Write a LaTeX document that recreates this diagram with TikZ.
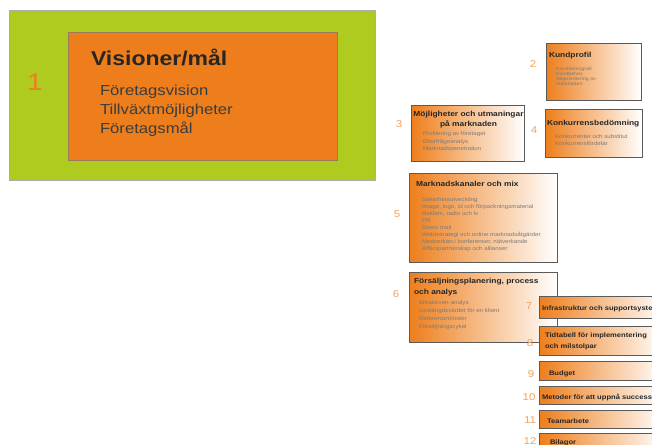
\documentclass[tikz,border=0pt]{standalone}
\usepackage{fontspec}
\setmainfont{Liberation Sans}[FakeStretch=1.15]
\usetikzlibrary{shadows}
\definecolor{leaf}{HTML}{AFCB1F}
\definecolor{tang}{HTML}{EE7E1B}
\definecolor{numc}{HTML}{F3A35C}
\definecolor{ink}{HTML}{262626}
\definecolor{bodyink}{HTML}{3C3C3C}
\definecolor{mute}{HTML}{7A7A7A}
\definecolor{rim}{HTML}{5A5A5A}
\definecolor{corerim}{HTML}{9A7A58}
\newcommand{\fsz}[1]{\fontsize{#1}{#1}\selectfont}
\begin{document}
\begin{tikzpicture}[x=1pt,y=-1pt,
  every node/.style={inner sep=0pt, outer sep=0pt},
  panel/.style={draw=rim, line width=1pt, left color=tang, right color=white,
    anchor=north west,
    drop shadow={shadow xshift=1pt, shadow yshift=-1pt, fill=black, opacity=0.25}},
  head/.style={font=\bfseries\fsz{7.3}, text=ink, anchor=base west},
  bar/.style={font=\bfseries\fsz{6.6}, text=ink, anchor=base west},
  item/.style={font=\fsz{5.4}, text=mute, anchor=base west},
  tiny/.style={font=\fsz{4.6}, text=mute, anchor=base west},
  num/.style={font=\fsz{10}, text=numc, anchor=base},
]
\path[use as bounding box] (0,0) rectangle (652,444);
\fill[white] (0,0) rectangle (652,444);
\clip (0,0) rectangle (652,444);

% vision panel
\node[draw=gray!65, fill=leaf, line width=0.8pt, anchor=north west,
  minimum width=365.5pt, minimum height=170pt,
  drop shadow={shadow xshift=1pt, shadow yshift=-1pt, fill=black, opacity=0.45}]
  (frame) at (9.5,10) {};
\node[draw=corerim, fill=tang, line width=1pt, anchor=north west,
  minimum width=269pt, minimum height=127pt] (core) at (68,33) {};
\node[font=\fsz{24}, text=tang, anchor=base] (n1) at (35,90.5) {1};
\node[font=\bfseries\fsz{20}, text=ink, anchor=base west] (title) at (91,66) {Visioner/mål};
\node[font=\fsz{14.5}, text=bodyink, anchor=base west] (v1) at (100,95) {Företagsvision};
\node[font=\fsz{14.5}, text=bodyink, anchor=base west] (v2) at (100,114) {Tillväxtmöjligheter};
\node[font=\fsz{14.5}, text=bodyink, anchor=base west] (v3) at (100,133) {Företagsmål};

% 2 Kundprofil
\node[panel, minimum width=95pt, minimum height=56pt] (b2) at (546,44) {};
\node[num] (n2) at (533,67.6) {2};
\node[head] (h2) at (549,57.6) {Kundprofil};
\foreach \t [count=\k] in {Kunddemografi, Kundbehov, Segmentering av, marknaden}
  \node[tiny] (b2i\k) at (556,65.6+5*\k) {\t};

% 3 Möjligheter och utmaningar
\node[panel, minimum width=113pt, minimum height=56pt] (b3) at (411,105) {};
\node[num] (n3) at (399,127.6) {3};
\node[head, anchor=base] (h3a) at (468.5,116.6) {Möjligheter och utmaningar};
\node[head, anchor=base] (h3b) at (468.5,126.6) {på marknaden};
\foreach \t [count=\k] in {Profilering av företaget, Efterfrågeanalys, Marknadspenetration}
  \node[item] (b3i\k) at (423,128+7.5*\k) {\t};

% 4 Konkurrensbedömning
\node[panel, minimum width=97pt, minimum height=48pt] (b4) at (545,109) {};
\node[num] (n4) at (534,133.6) {4};
\node[head] (h4) at (547,125.6) {Konkurrensbedömning};
\foreach \t [count=\k] in {Konkurrenter och substitut, Konkurrensfördelar}
  \node[item] (b4i\k) at (555,131+7*\k) {\t};

% 5 Marknadskanaler och mix
\node[panel, minimum width=148pt, minimum height=89pt] (b5) at (409,173) {};
\node[num] (n5) at (397,217.6) {5};
\node[head] (h5) at (416,186.6) {Marknadskanaler och mix};
\foreach \t [count=\k] in {Säkerhetsutveckling, {Image, logo, id och förpackningsmaterial},
    {Reklam, radio och tv}, PR, Direct mail, Webbstrategi och online marknadsåtgärder,
    {Medverkan i konferenser, nätverkande}, Affärspartnerskap och allianser}
  \node[item] (b5i\k) at (422,194+7*\k) {\t};

% 6 Försäljningsplanering
\node[panel, minimum width=148pt, minimum height=70pt] (b6) at (409,272) {};
\node[num] (n6) at (396,297.6) {6};
\node[head] (h6a) at (414,283.6) {Försäljningsplanering, process};
\node[head] (h6b) at (414,294.6) {och analys};
\foreach \t [count=\k] in {Breakeven-analys, Livslängdsvärdet för en klient, Referensmönster, Försäljningscykel}
  \node[item] (b6i\k) at (419,296+8*\k) {\t};

% 7-12 bars
\node[panel, minimum width=126pt, minimum height=22pt] (b7) at (539,296) {};
\node[num] (n7) at (529,309.6) {7};
\node[bar] (t7) at (542,310.4) {Infrastruktur och supportsystem};

\node[panel, minimum width=126pt, minimum height=29pt] (b8) at (539,326) {};
\node[num] (n8) at (530,346.6) {8};
\node[bar] (t8a) at (545,337.4) {Tidtabell för implementering};
\node[bar] (t8b) at (545,348.4) {och milstolpar};

\node[panel, minimum width=126pt, minimum height=19pt] (b9) at (539,361) {};
\node[num] (n9) at (531,377.6) {9};
\node[bar] (t9) at (549,375.4) {Budget};

\node[panel, minimum width=126pt, minimum height=18pt] (b10) at (539,386) {};
\node[num] (n10) at (529,400.6) {10};
\node[bar] (t10) at (542,399.4) {Metoder för att uppnå succession};

\node[panel, minimum width=126pt, minimum height=18pt] (b11) at (539,410) {};
\node[num] (n11) at (530,423.6) {11};
\node[bar] (t11) at (547,423.4) {Teamarbete};

\node[panel, minimum width=126pt, minimum height=25pt] (b12) at (539,433) {};
\node[num] (n12) at (530,444.6) {12};
\node[bar] (t12) at (550,444.4) {Bilagor};
\end{tikzpicture}
\end{document}
